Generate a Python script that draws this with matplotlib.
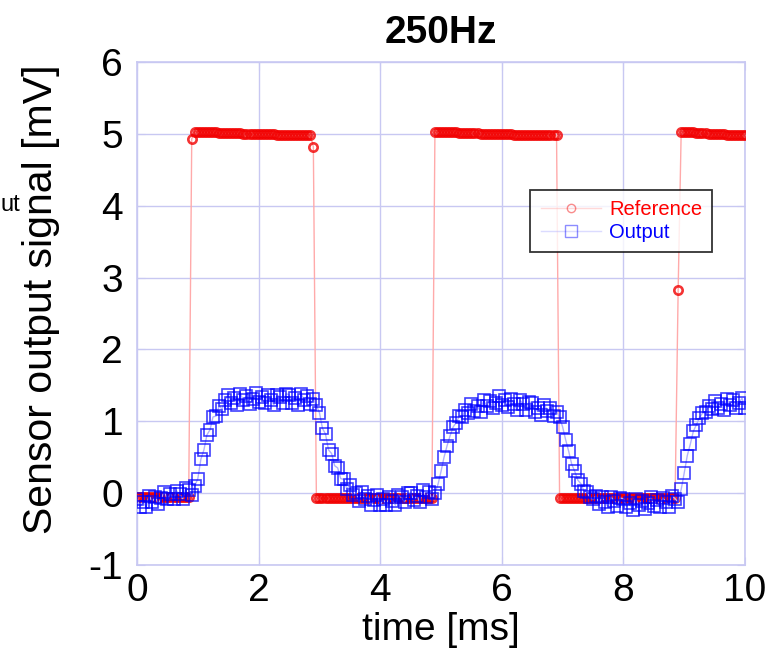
import numpy as np
import matplotlib
matplotlib.use('Agg')
from matplotlib import pyplot as plt

plt.rcParams['font.family'] = ['Liberation Sans', 'DejaVu Sans']
plt.rcParams['axes.unicode_minus'] = False

# time axis [ms], one sample every 0.05 ms
time_ms = np.round(np.arange(0, 10.0001, 0.05), 2)

# reference signal [mV]
reference = [
    -0.05, -0.05, -0.05, -0.05, -0.05, -0.05, -0.05, -0.05, -0.05, -0.05,
    -0.05, -0.05, -0.05, -0.05, -0.05, -0.05, -0.05, -0.05, 4.93, 5.03,
    5.03, 5.02, 5.02, 5.02, 5.02, 5.02, 5.02, 5.01, 5.01, 5.01,
    5.01, 5.01, 5.01, 5.01, 5.01, 5.00, 5.00, 5.00, 5.00, 5.00,
    5.00, 5.00, 5.00, 5.00, 5.00, 5.00, 4.99, 4.99, 4.99, 4.99,
    4.99, 4.99, 4.99, 4.99, 4.99, 4.99, 4.99, 4.99, 4.82, -0.07,
    -0.07, -0.07, -0.07, -0.07, -0.07, -0.07, -0.07, -0.07, -0.07, -0.07,
    -0.07, -0.07, -0.07, -0.07, -0.07, -0.07, -0.07, -0.07, -0.07, -0.07,
    -0.07, -0.07, -0.07, -0.07, -0.07, -0.07, -0.07, -0.07, -0.07, -0.07,
    -0.07, -0.07, -0.07, -0.07, -0.07, -0.07, -0.07, -0.07, 5.03, 5.03,
    5.02, 5.02, 5.02, 5.02, 5.02, 5.02, 5.01, 5.01, 5.01, 5.01,
    5.01, 5.01, 5.01, 5.00, 5.00, 5.00, 5.00, 5.00, 5.00, 5.00,
    5.00, 5.00, 5.00, 5.00, 4.99, 4.99, 4.99, 4.99, 4.99, 4.99,
    4.99, 4.99, 4.99, 4.99, 4.99, 4.99, 4.99, 4.99, 4.98, -0.07,
    -0.07, -0.07, -0.07, -0.07, -0.07, -0.07, -0.07, -0.07, -0.07, -0.07,
    -0.07, -0.07, -0.07, -0.07, -0.07, -0.07, -0.07, -0.07, -0.07, -0.07,
    -0.07, -0.07, -0.07, -0.07, -0.07, -0.07, -0.07, -0.07, -0.07, -0.07,
    -0.07, -0.07, -0.07, -0.07, -0.07, -0.07, -0.07, -0.07, 2.82, 5.03,
    5.03, 5.02, 5.02, 5.02, 5.01, 5.01, 5.01, 5.01, 5.00, 5.00,
    5.00, 5.00, 5.00, 5.00, 4.99, 4.99, 4.99, 4.99, 4.99, 4.99,
    4.99,
]

# sensor output [mV]
output = [
    -0.09, -0.19, -0.12, -0.20, -0.04, -0.12, -0.05, -0.15, -0.07, 0.02,
    -0.09, -0.01, -0.09, 0.03, -0.02, -0.08, 0.07, 0.04, -0.03, 0.10,
    0.20, 0.47, 0.60, 0.81, 0.88, 1.06, 1.07, 1.21, 1.17, 1.30,
    1.37, 1.26, 1.32, 1.23, 1.38, 1.29, 1.35, 1.24, 1.31, 1.39,
    1.27, 1.34, 1.25, 1.36, 1.30, 1.23, 1.37, 1.33, 1.26, 1.38,
    1.37, 1.26, 1.32, 1.23, 1.38, 1.29, 1.35, 1.24, 1.31, 1.22,
    1.12, 0.90, 0.82, 0.60, 0.55, 0.38, 0.35, 0.20, 0.19, 0.06,
    0.11, -0.03, 0.00, -0.11, 0.02, -0.09, -0.04, -0.16, -0.10, -0.03,
    -0.16, -0.09, -0.17, -0.06, -0.11, -0.17, -0.03, -0.06, -0.12, 0.00,
    0.00, -0.10, -0.04, -0.12, 0.04, -0.05, 0.02, -0.08, 0.00, 0.12,
    0.30, 0.50, 0.66, 0.80, 0.92, 0.98, 1.07, 1.06, 1.16, 1.12,
    1.24, 1.14, 1.21, 1.13, 1.29, 1.21, 1.28, 1.18, 1.26, 1.35,
    1.23, 1.30, 1.20, 1.31, 1.24, 1.16, 1.29, 1.24, 1.16, 1.27,
    1.25, 1.13, 1.19, 1.09, 1.23, 1.14, 1.19, 1.07, 1.13, 1.06,
    0.92, 0.74, 0.58, 0.40, 0.30, 0.18, 0.13, 0.03, 0.01, -0.06,
    -0.09, -0.04, -0.15, -0.05, -0.12, -0.20, -0.06, -0.11, -0.18, -0.07,
    -0.08, -0.19, -0.14, -0.23, -0.08, -0.17, -0.11, -0.22, -0.14, -0.06,
    -0.18, -0.10, -0.19, -0.07, -0.13, -0.19, -0.04, -0.08, -0.13, 0.05,
    0.28, 0.52, 0.68, 0.86, 0.95, 1.05, 1.11, 1.13, 1.21, 1.17,
    1.28, 1.18, 1.24, 1.16, 1.31, 1.23, 1.29, 1.18, 1.25, 1.32,
    1.19,
]

x_ticks = [0, 2, 4, 6, 8, 10]
y_ticks = [-1, 0, 1, 2, 3, 4, 5, 6]

frame_color = '#c8c8f2'

fig = plt.figure(figsize=(7.83, 6.53), dpi=100)
ax = fig.add_axes([0.175, 0.135, 0.7765, 0.770])

ax.plot(time_ms, reference, color='#ffaaaa', lw=1.0, marker='o', ms=6.0,
        mfc='none', mec=(0.95, 0, 0, 0.8), mew=1.9, label='Reference', zorder=3)
ax.plot(time_ms, output, color='#b0b0ff', lw=1.0, marker='s', ms=8.5,
        mfc='none', mec=(0, 0, 1, 0.75), mew=1.2, label='Output', zorder=4)

ax.set_xlim(0, 10)
ax.set_ylim(-1, 6)
ax.set_xticks(x_ticks)
ax.set_yticks(y_ticks)
ax.grid(True, color=frame_color, lw=1.0)
ax.set_axisbelow(True)
for sp in ax.spines.values():
    sp.set_color(frame_color)
    sp.set_linewidth(1.2)
ax.tick_params(direction='in', length=6, color=frame_color, labelsize=28,
               top=True, right=True)
ax.tick_params(axis='x', pad=6)
ax.tick_params(axis='y', pad=10)

ax.set_title('250Hz', fontsize=28, fontweight='bold', pad=14)
ax.set_xlabel('time [ms]', fontsize=28, labelpad=2)
ax.set_ylabel('Sensor output signal [mV]', fontsize=29.5)
ax.yaxis.set_label_coords(-0.127, 0.529)

leg = ax.legend(loc='upper right', bbox_to_anchor=(0.946, 0.746), fontsize=14.5,
                frameon=True, fancybox=False, handlelength=3.0, borderaxespad=0,
                borderpad=0.5, labelspacing=0.2, handletextpad=0.4)
leg.get_frame().set_edgecolor('black')
leg.get_frame().set_linewidth(1.3)
for txt, c in zip(leg.get_texts(), ['red', 'blue']):
    txt.set_color(c)
for h in leg.legend_handles:
    h.set_alpha(0.45)
    h.set_markeredgewidth(1.0)

# fragment of a neighbouring label at the left edge of the image
fig.text(0.0, 1 - 205 / 653, 'ut', fontsize=17, ha='left', va='center')

fig.savefig('out.png', dpi=100)
